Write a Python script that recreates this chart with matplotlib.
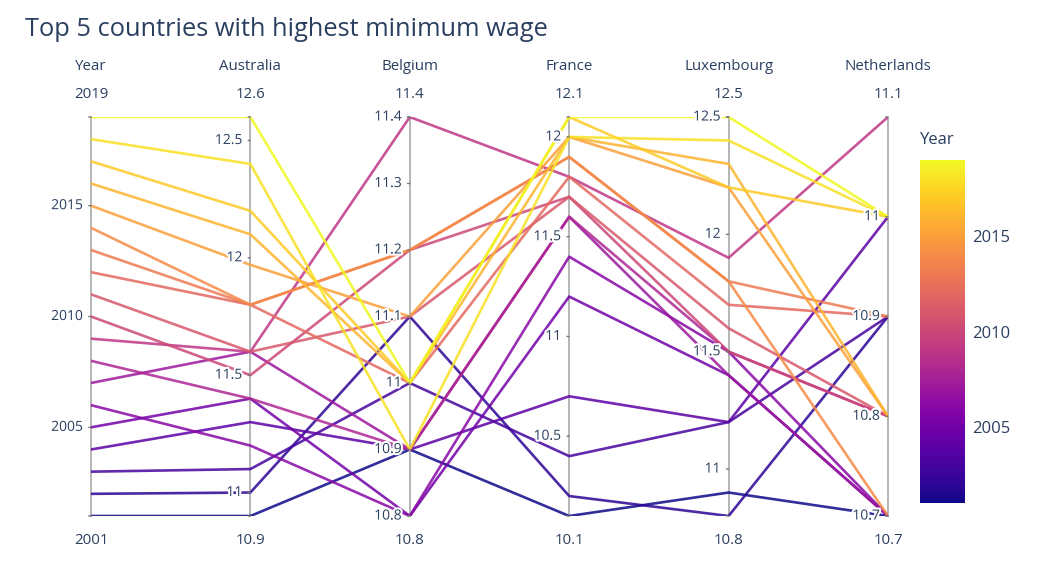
import matplotlib
matplotlib.use("Agg")
import matplotlib.pyplot as plt
import matplotlib.patheffects as pe
import numpy as np

plt.rcParams['font.family'] = ['Open Sans', 'DejaVu Sans']

# données (salaire minimum horaire)
years = [2001, 2002, 2003, 2004, 2005, 2006, 2007, 2008, 2009, 2010,
         2011, 2012, 2013, 2014, 2015, 2016, 2017, 2018, 2019]
australia = [10.9, 11.0, 11.1, 11.3, 11.4, 11.2, 11.6, 11.4, 11.6, 11.5,
             11.6, 11.8, 11.8, 11.8, 11.97, 12.1, 12.2, 12.4, 12.6]
belgium = [10.9, 11.1, 11.0, 10.9, 10.8, 10.8, 10.9, 10.9, 11.4, 11.2,
           11.1, 11.0, 11.2, 11.2, 11.1, 11.0, 11.0, 10.9, 11.0]
france = [10.1, 10.2, 10.4, 10.7, 11.2, 11.4, 11.6, 11.6, 11.8, 11.7,
          11.7, 11.8, 11.9, 11.9, 12.0, 12.0, 12.1, 12.0, 12.1]
luxembourg = [10.9, 10.8, 11.2, 11.2, 11.4, 11.5, 11.4, 11.5, 11.9, 11.5,
              11.6, 11.7, 11.8, 11.8, 12.2, 12.3, 12.2, 12.4, 12.5]
netherlands = [10.7, 10.9, 10.9, 11.0, 10.7, 10.7, 10.7, 10.8, 11.1, 10.8,
               10.8, 10.9, 10.9, 10.7, 10.8, 10.8, 11.0, 11.0, 11.0]

dimensions = ["Year", "Australia", "Belgium", "France", "Luxembourg", "Netherlands"]
tick_values = [
    [2005, 2010, 2015],
    [11, 11.5, 12, 12.5],
    [10.8, 10.9, 11, 11.1, 11.2, 11.3, 11.4],
    [10.5, 11, 11.5, 12],
    [11, 11.5, 12, 12.5],
    [10.7, 10.8, 10.9, 11],
]

TEXT = '#2a3f5f'
halo = [pe.withStroke(linewidth=3, foreground='white')]

data = np.array([years, australia, belgium, france, luxembourg, netherlands], dtype=float)
mins = data.min(axis=1)
maxs = data.max(axis=1)
norm_data = (data - mins[:, None]) / (maxs - mins)[:, None]

fig = plt.figure(figsize=(10.4, 5.67), dpi=100)
W, H = 1040, 567
ax = fig.add_axes([91 / W, 1 - 516 / H, (888 - 91) / W, (516 - 117) / H])
ax.set_xlim(0, len(dimensions) - 1)
ax.set_ylim(0, 1)
ax.axis('off')

cmap = plt.get_cmap('plasma')
cnorm = matplotlib.colors.Normalize(vmin=min(years), vmax=max(years))
x = np.arange(len(dimensions))
for j, yr in enumerate(years):
    ax.plot(x, norm_data[:, j], color=cmap(cnorm(yr)), lw=1.9, alpha=0.85,
            solid_joinstyle='round', zorder=2)


def fmt(v):
    s = f"{v:.1f}"
    return s[:-2] if s.endswith('.0') else s


for i, name in enumerate(dimensions):
    ax.plot([i, i], [0, 1], color='#b0b0b0', lw=1.3, zorder=1, clip_on=False)
    ax.annotate(name, xy=(i, 1), xytext=(0, 50), textcoords='offset pixels',
                ha='center', va='center', fontsize=10.8, color=TEXT)
    top = f"{maxs[i]:.0f}" if i == 0 else fmt(maxs[i])
    bot = f"{mins[i]:.0f}" if i == 0 else fmt(mins[i])
    ax.annotate(top, xy=(i, 1), xytext=(0, 23), textcoords='offset pixels',
                ha='center', va='center', fontsize=10.8, color=TEXT)
    ax.annotate(bot, xy=(i, 0), xytext=(0, -24), textcoords='offset pixels',
                ha='center', va='center', fontsize=10.8, color=TEXT)
    # petites marques aux extrémités
    for yn in (0, 1):
        ax.annotate('', xy=(i, yn), xytext=(-5, 0), textcoords='offset pixels',
                    arrowprops=dict(arrowstyle='-', color='#777777', lw=1))
    for tv in tick_values[i]:
        yn = (tv - mins[i]) / (maxs[i] - mins[i])
        ax.annotate('', xy=(i, yn), xytext=(-5, 0), textcoords='offset pixels',
                    arrowprops=dict(arrowstyle='-', color='#777777', lw=1))
        label = f"{tv:.0f}" if i == 0 else fmt(tv)
        t = ax.annotate(label, xy=(i, yn), xytext=(-8, 0),
                        textcoords='offset pixels', ha='right', va='center',
                        fontsize=10, color=TEXT, zorder=5)
        t.set_path_effects(halo)

fig.text(25 / W, 1 - 30 / H, "Top 5 countries with highest minimum wage",
         fontsize=18.3, color=TEXT, va='center', ha='left')

# barre de couleur
cax = fig.add_axes([920 / W, 1 - 503 / H, 45 / W, (503 - 160) / H])
sm = matplotlib.cm.ScalarMappable(norm=cnorm, cmap=cmap)
cb = fig.colorbar(sm, cax=cax, ticks=[2005, 2010, 2015])
cb.outline.set_visible(False)
cb.ax.tick_params(labelsize=12, colors=TEXT, length=0, pad=5)
fig.text(920 / W, 1 - 140 / H, "Year", fontsize=12, color=TEXT, va='center', ha='left')

fig.savefig("out.png", dpi=100)
